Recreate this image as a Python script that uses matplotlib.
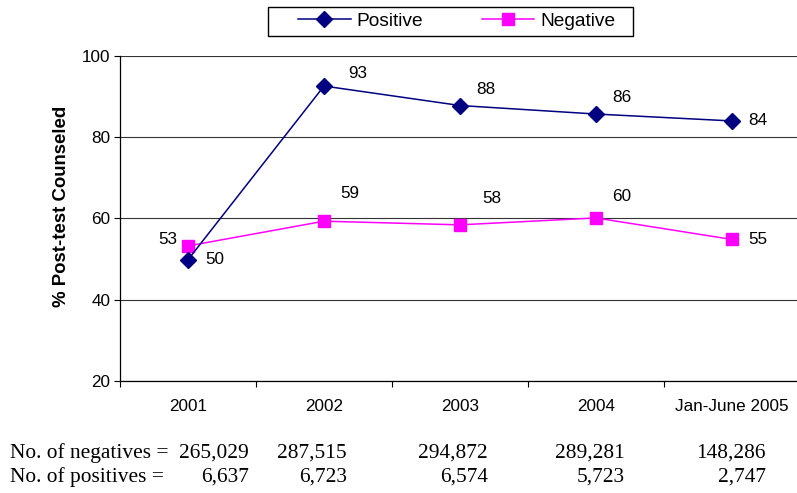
import matplotlib
matplotlib.use("Agg")
import matplotlib.pyplot as plt
from matplotlib.patches import Rectangle
import numpy as np

categories = ["2001", "2002", "2003", "2004", "Jan-June 2005"]
positive = [49.8, 92.6, 87.8, 85.7, 84.0]
negative = [53.2, 59.3, 58.4, 60.1, 54.8]
positive_labels = ["50", "93", "88", "86", "84"]
negative_labels = ["53", "59", "58", "60", "55"]
yticks = [20, 40, 60, 80, 100]
no_negatives = ["265,029", "287,515", "294,872", "289,281", "148,286"]
no_positives = ["6,637", "6,723", "6,574", "5,723", "2,747"]

# label offsets in pixels (style only)
pos_offsets = [(27, 0), (34, 13), (26, 16), (26, 17), (26, 0)]
neg_offsets = [(-20, 6), (26, 28), (32, 26), (26, 21), (26, 0)]

W, H = 797, 493
fig = plt.figure(figsize=(W / 100, H / 100), dpi=100)
ax = fig.add_axes([120 / W, 1 - 380.7 / H, 680 / W, (380.7 - 56) / H])

plt.rcParams['font.family'] = ['Liberation Sans', 'DejaVu Sans']
TF = 12.3

x = np.arange(len(categories))
ax.plot(x, positive, color="#000080", marker="D", markersize=8, linewidth=1.1,
        label="Positive", zorder=4)
ax.plot(x, negative, color="#FF00FF", marker="s", markersize=9, linewidth=1.1,
        label="Negative", zorder=3)

for i in range(len(x)):
    ax.annotate(positive_labels[i], (x[i], positive[i]), xytext=pos_offsets[i],
                textcoords="offset pixels", ha="center", va="center",
                fontsize=TF, family="Liberation Sans")
    ax.annotate(negative_labels[i], (x[i], negative[i]), xytext=neg_offsets[i],
                textcoords="offset pixels", ha="center", va="center",
                fontsize=TF, family="Liberation Sans")

ax.set_xlim(-0.5, len(categories) - 0.5)
ax.set_ylim(20, 100)
ax.set_yticks(yticks)
ax.set_yticklabels([str(v) for v in yticks], fontsize=TF, family="Liberation Sans")
ax.yaxis.grid(True, color="#333333", linewidth=0.8)
ax.set_axisbelow(True)

ax.set_xticks(np.arange(-0.5, len(categories) + 0.5, 1.0))
ax.set_xticks(x, minor=True)
ax.set_xticklabels([""] * (len(categories) + 1))
ax.set_xticklabels(categories, minor=True, fontsize=TF, family="Liberation Sans")
ax.tick_params(axis="x", which="minor", length=0, pad=13)
ax.tick_params(axis="x", which="major", length=4, width=0.8, direction="out")
ax.tick_params(axis="y", length=4, width=0.8, direction="out", pad=3)

for s in ["top", "right"]:
    ax.spines[s].set_visible(False)
ax.spines["left"].set_color("black")
ax.spines["bottom"].set_color("black")
ax.spines["left"].set_linewidth(0.9)
ax.spines["bottom"].set_linewidth(0.9)

fig.text(62 / W, 1 - 206 / H, "% Post-test Counseled", fontsize=13.4,
         fontweight="bold", family="Liberation Sans", rotation=90,
         ha="center", va="center")

# legend box
fig.patches.append(Rectangle((268 / W, 1 - 36 / H), (633 - 268) / W, 29 / H,
                             transform=fig.transFigure, facecolor="white",
                             edgecolor="black", linewidth=1.0, zorder=5))
leg = fig.legend(loc="center left", bbox_to_anchor=(298 / W, 1 - 21 / H), ncol=2,
                 frameon=False,
                 prop={"family": "Liberation Sans", "size": 13.8},
                 handlelength=2.75, columnspacing=3.05, borderpad=0.0,
                 handletextpad=0.3, borderaxespad=0)
leg.set_zorder(6)

right_edges = [249, 347, 488, 625, 766]
fs = 15.4
fig.text(10 / W, 1 - 453 / H, "No. of negatives =", fontsize=fs,
         family="Liberation Serif", ha="left", va="center")
fig.text(10 / W, 1 - 477 / H, "No. of positives =", fontsize=fs,
         family="Liberation Serif", ha="left", va="center")
for i in range(len(categories)):
    fig.text(right_edges[i] / W, 1 - 453 / H, no_negatives[i], fontsize=fs,
             family="Liberation Serif", ha="right", va="center")
    fig.text(right_edges[i] / W, 1 - 477 / H, no_positives[i], fontsize=fs,
             family="Liberation Serif", ha="right", va="center")

fig.savefig("out.png", dpi=100)
